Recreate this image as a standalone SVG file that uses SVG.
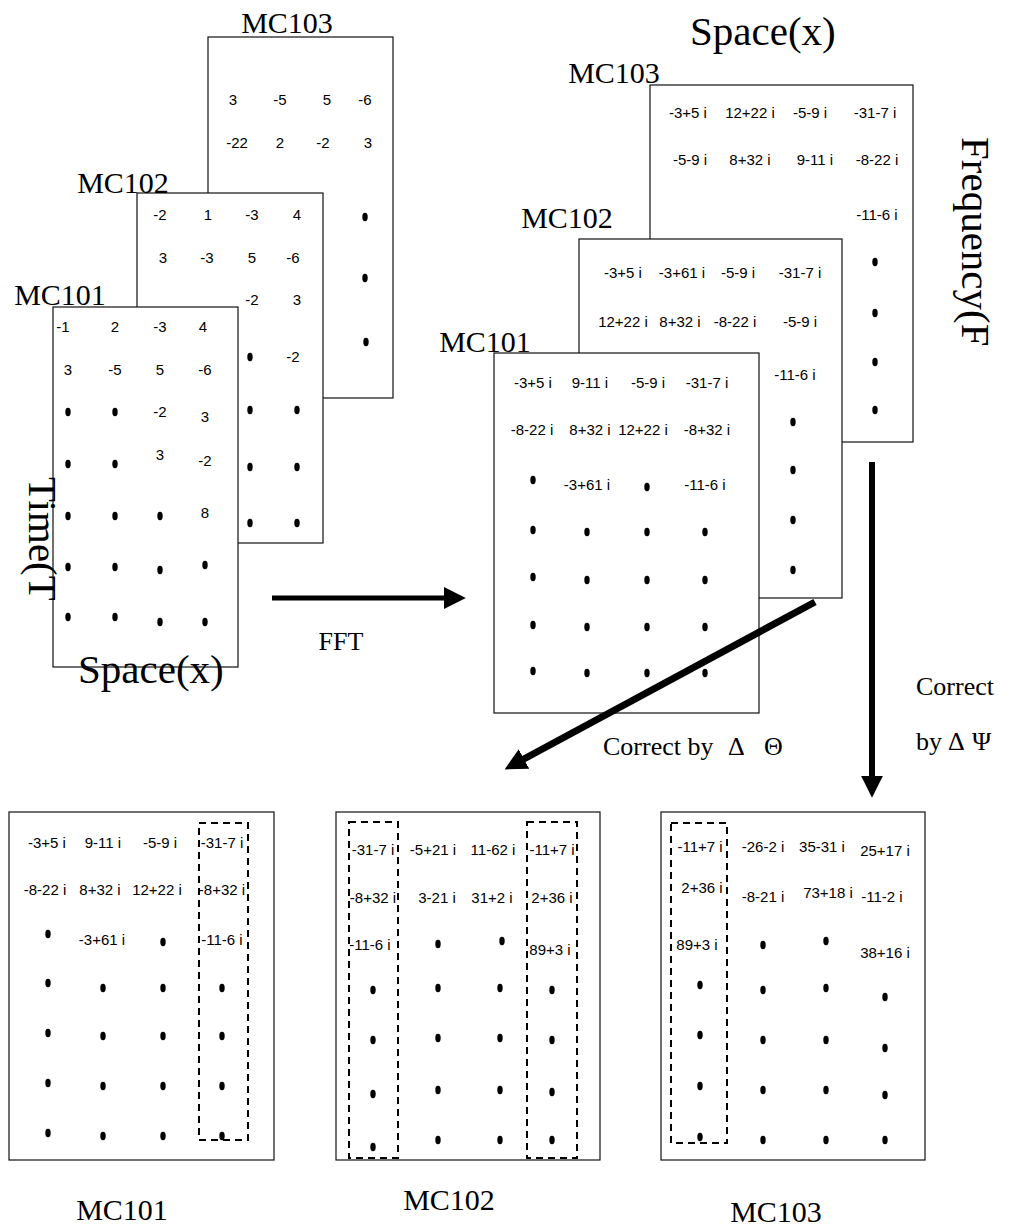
<svg xmlns="http://www.w3.org/2000/svg" width="1021" height="1231" viewBox="0 0 1021 1231">
<defs>
<style>
.box{fill:#fff;stroke:#111;stroke-width:1.2}
.dash{fill:none;stroke:#000;stroke-width:2;stroke-dasharray:7 5}
.n{font-family:"Liberation Sans",Arial,sans-serif;font-size:15px;text-anchor:middle;fill:#000}
.lb{font-family:"Liberation Serif","Times New Roman",serif;font-size:30px;fill:#000;text-anchor:middle}
.ax{font-family:"Liberation Serif","Times New Roman",serif;font-size:41px;fill:#000}
.cl{font-family:"Liberation Serif","Times New Roman",serif;font-size:26px;fill:#000}
.d{fill:#000}
.arr{stroke:#000;fill:none}
</style>
<marker id="ah" viewBox="0 0 10 10" refX="1" refY="5" markerUnits="userSpaceOnUse" markerWidth="22" markerHeight="22" orient="auto">
<path d="M0,0 L10,5 L0,10 z" fill="#000"/>
</marker>
</defs>
<rect width="1021" height="1231" fill="#fff"/>

<!-- Left stack: time domain -->
<g id="t-mc103">
<rect class="box" x="208" y="37" width="185" height="361"/>
<text class="lb" x="287" y="33">MC103</text>
<text class="n" x="233" y="105">3</text><text class="n" x="280" y="105">-5</text><text class="n" x="327" y="105">5</text><text class="n" x="365" y="105">-6</text>
<text class="n" x="237" y="148">-22</text><text class="n" x="280" y="148">2</text><text class="n" x="323" y="148">-2</text><text class="n" x="368" y="148">3</text>
<ellipse class="d" cx="365" cy="217" rx="2.7" ry="4.2"/><ellipse class="d" cx="365" cy="278" rx="2.7" ry="4.2"/><ellipse class="d" cx="366" cy="342" rx="2.7" ry="4.2"/>
</g>
<g id="t-mc102">
<rect class="box" x="137" y="193" width="186" height="350"/>
<text class="lb" x="123" y="193">MC102</text>
<text class="n" x="160" y="220">-2</text><text class="n" x="208" y="220">1</text><text class="n" x="252" y="220">-3</text><text class="n" x="297" y="220">4</text>
<text class="n" x="163" y="263">3</text><text class="n" x="207" y="263">-3</text><text class="n" x="252" y="263">5</text><text class="n" x="293" y="263">-6</text>
<text class="n" x="252" y="305">-2</text><text class="n" x="297" y="305">3</text>
<ellipse class="d" cx="250" cy="357" rx="2.7" ry="4.2"/><text class="n" x="293" y="362">-2</text>
<ellipse class="d" cx="250" cy="410" rx="2.7" ry="4.2"/><ellipse class="d" cx="297" cy="410" rx="2.7" ry="4.2"/>
<ellipse class="d" cx="250" cy="467" rx="2.7" ry="4.2"/><ellipse class="d" cx="297" cy="467" rx="2.7" ry="4.2"/>
<ellipse class="d" cx="250" cy="523" rx="2.7" ry="4.2"/><ellipse class="d" cx="297" cy="523" rx="2.7" ry="4.2"/>
</g>
<g id="t-mc101">
<rect class="box" x="53" y="307" width="185" height="360"/>
<text class="lb" x="60" y="305">MC101</text>
<text class="n" x="63" y="332">-1</text><text class="n" x="115" y="332">2</text><text class="n" x="160" y="332">-3</text><text class="n" x="203" y="332">4</text>
<text class="n" x="68" y="375">3</text><text class="n" x="115" y="375">-5</text><text class="n" x="160" y="375">5</text><text class="n" x="205" y="375">-6</text>
<ellipse class="d" cx="68" cy="412" rx="2.7" ry="4.2"/><ellipse class="d" cx="115" cy="412" rx="2.7" ry="4.2"/><text class="n" x="160" y="417">-2</text><text class="n" x="205" y="422">3</text>
<ellipse class="d" cx="68" cy="464" rx="2.7" ry="4.2"/><ellipse class="d" cx="115" cy="464" rx="2.7" ry="4.2"/><text class="n" x="160" y="460">3</text><text class="n" x="205" y="466">-2</text>
<ellipse class="d" cx="68" cy="516" rx="2.7" ry="4.2"/><ellipse class="d" cx="115" cy="516" rx="2.7" ry="4.2"/><ellipse class="d" cx="160" cy="516" rx="2.7" ry="4.2"/><text class="n" x="205" y="518">8</text>
<ellipse class="d" cx="68" cy="567" rx="2.7" ry="4.2"/><ellipse class="d" cx="115" cy="567" rx="2.7" ry="4.2"/><ellipse class="d" cx="160" cy="570" rx="2.7" ry="4.2"/><ellipse class="d" cx="205" cy="565" rx="2.7" ry="4.2"/>
<ellipse class="d" cx="68" cy="617" rx="2.7" ry="4.2"/><ellipse class="d" cx="115" cy="617" rx="2.7" ry="4.2"/><ellipse class="d" cx="160" cy="622" rx="2.7" ry="4.2"/><ellipse class="d" cx="205" cy="622" rx="2.7" ry="4.2"/>
</g>
<g id="t-axes">
<text class="ax" transform="translate(29,477) rotate(90)">Time(T</text>
<text class="ax" x="78" y="683">Space(x)</text>
</g>

<!-- Right stack: frequency domain -->
<g id="f-mc103">
<rect class="box" x="650" y="85" width="263" height="357"/>
<text class="lb" x="614" y="83">MC103</text>
<text class="n" x="688" y="118">-3+5 i</text><text class="n" x="750" y="118">12+22 i</text><text class="n" x="810" y="118">-5-9 i</text><text class="n" x="875" y="118">-31-7 i</text>
<text class="n" x="690" y="165">-5-9 i</text><text class="n" x="750" y="165">8+32 i</text><text class="n" x="815" y="165">9-11 i</text><text class="n" x="877" y="165">-8-22 i</text>
<text class="n" x="877" y="220">-11-6 i</text>
<ellipse class="d" cx="875" cy="262" rx="2.7" ry="4.2"/><ellipse class="d" cx="875" cy="313" rx="2.7" ry="4.2"/><ellipse class="d" cx="875" cy="362" rx="2.7" ry="4.2"/><ellipse class="d" cx="875" cy="410" rx="2.7" ry="4.2"/>
</g>
<g id="f-mc102">
<rect class="box" x="579" y="239" width="263" height="359"/>
<text class="lb" x="567" y="228">MC102</text>
<text class="n" x="623" y="278">-3+5 i</text><text class="n" x="682" y="278">-3+61 i</text><text class="n" x="738" y="278">-5-9 i</text><text class="n" x="800" y="278">-31-7 i</text>
<text class="n" x="623" y="327">12+22 i</text><text class="n" x="680" y="327">8+32 i</text><text class="n" x="735" y="327">-8-22 i</text><text class="n" x="800" y="327">-5-9 i</text>
<text class="n" x="795" y="380">-11-6 i</text>
<ellipse class="d" cx="793" cy="422" rx="2.7" ry="4.2"/><ellipse class="d" cx="793" cy="470" rx="2.7" ry="4.2"/><ellipse class="d" cx="793" cy="520" rx="2.7" ry="4.2"/><ellipse class="d" cx="793" cy="570" rx="2.7" ry="4.2"/>
</g>
<g id="f-mc101">
<rect class="box" x="494" y="353" width="265" height="360"/>
<text class="lb" x="485" y="352">MC101</text>
<text class="n" x="533" y="388">-3+5 i</text><text class="n" x="590" y="388">9-11 i</text><text class="n" x="648" y="388">-5-9 i</text><text class="n" x="707" y="388">-31-7 i</text>
<text class="n" x="532" y="435">-8-22 i</text><text class="n" x="590" y="435">8+32 i</text><text class="n" x="643" y="435">12+22 i</text><text class="n" x="707" y="435">-8+32 i</text>
<ellipse class="d" cx="533" cy="480" rx="2.7" ry="4.2"/><text class="n" x="587" y="490">-3+61 i</text><ellipse class="d" cx="647" cy="487" rx="2.7" ry="4.2"/><text class="n" x="705" y="490">-11-6 i</text>
<ellipse class="d" cx="533" cy="530" rx="2.7" ry="4.2"/><ellipse class="d" cx="587" cy="532" rx="2.7" ry="4.2"/><ellipse class="d" cx="647" cy="532" rx="2.7" ry="4.2"/><ellipse class="d" cx="705" cy="532" rx="2.7" ry="4.2"/>
<ellipse class="d" cx="533" cy="577" rx="2.7" ry="4.2"/><ellipse class="d" cx="587" cy="580" rx="2.7" ry="4.2"/><ellipse class="d" cx="647" cy="580" rx="2.7" ry="4.2"/><ellipse class="d" cx="705" cy="580" rx="2.7" ry="4.2"/>
<ellipse class="d" cx="533" cy="625" rx="2.7" ry="4.2"/><ellipse class="d" cx="587" cy="627" rx="2.7" ry="4.2"/><ellipse class="d" cx="647" cy="627" rx="2.7" ry="4.2"/><ellipse class="d" cx="705" cy="627" rx="2.7" ry="4.2"/>
<ellipse class="d" cx="533" cy="671" rx="2.7" ry="4.2"/><ellipse class="d" cx="587" cy="673" rx="2.7" ry="4.2"/><ellipse class="d" cx="647" cy="673" rx="2.7" ry="4.2"/><ellipse class="d" cx="705" cy="673" rx="2.7" ry="4.2"/>
</g>
<g id="f-axes">
<text class="ax" x="690" y="45">Space(x)</text>
<text class="ax" transform="translate(962,137) rotate(90)">Frequency(F</text>
</g>

<!-- Connectors -->
<g id="connectors">
<line class="arr" x1="272" y1="598" x2="446" y2="598" stroke-width="5" marker-end="url(#ah)"/>
<line class="arr" x1="815" y1="602" x2="522" y2="760" stroke-width="7" marker-end="url(#ah)"/>
<line class="arr" x1="872" y1="462" x2="872" y2="778" stroke-width="6" marker-end="url(#ah)"/>
<text class="cl" x="341" y="650" text-anchor="middle" font-size="30">FFT</text>
<text class="cl" x="603" y="755">Correct by <tspan x="728">Δ</tspan><tspan x="764">Θ</tspan></text>
<text class="cl" x="916" y="695" font-size="24">Correct</text>
<text class="cl" x="916" y="750" font-size="24">by <tspan x="948">Δ</tspan><tspan x="972">Ψ</tspan></text>
</g>

<!-- Bottom: corrected -->
<g id="c-mc101">
<rect class="box" x="9" y="812" width="265" height="348"/>
<rect class="dash" x="199" y="823" width="49" height="317"/>
<text class="n" x="47" y="848">-3+5 i</text><text class="n" x="103" y="848">9-11 i</text><text class="n" x="160" y="848">-5-9 i</text><text class="n" x="222" y="848">-31-7 i</text>
<text class="n" x="45" y="895">-8-22 i</text><text class="n" x="100" y="895">8+32 i</text><text class="n" x="157" y="895">12+22 i</text><text class="n" x="222" y="895">-8+32 i</text>
<ellipse class="d" cx="48" cy="934" rx="2.7" ry="4.2"/><text class="n" x="102" y="945">-3+61 i</text><ellipse class="d" cx="163" cy="942" rx="2.7" ry="4.2"/><text class="n" x="222" y="945">-11-6 i</text>
<ellipse class="d" cx="48" cy="983" rx="2.7" ry="4.2"/><ellipse class="d" cx="103" cy="988" rx="2.7" ry="4.2"/><ellipse class="d" cx="163" cy="988" rx="2.7" ry="4.2"/><ellipse class="d" cx="222" cy="988" rx="2.7" ry="4.2"/>
<ellipse class="d" cx="48" cy="1033" rx="2.7" ry="4.2"/><ellipse class="d" cx="103" cy="1036" rx="2.7" ry="4.2"/><ellipse class="d" cx="163" cy="1036" rx="2.7" ry="4.2"/><ellipse class="d" cx="222" cy="1036" rx="2.7" ry="4.2"/>
<ellipse class="d" cx="48" cy="1083" rx="2.7" ry="4.2"/><ellipse class="d" cx="103" cy="1086" rx="2.7" ry="4.2"/><ellipse class="d" cx="163" cy="1086" rx="2.7" ry="4.2"/><ellipse class="d" cx="222" cy="1086" rx="2.7" ry="4.2"/>
<ellipse class="d" cx="48" cy="1133" rx="2.7" ry="4.2"/><ellipse class="d" cx="103" cy="1136" rx="2.7" ry="4.2"/><ellipse class="d" cx="163" cy="1136" rx="2.7" ry="4.2"/><ellipse class="d" cx="222" cy="1136" rx="2.7" ry="4.2"/>
<text class="lb" x="122" y="1220">MC101</text>
</g>
<g id="c-mc102">
<rect class="box" x="336" y="812" width="264" height="348"/>
<rect class="dash" x="349" y="822" width="49" height="336"/>
<rect class="dash" x="527" y="822" width="50" height="336"/>
<text class="n" x="373" y="855">-31-7 i</text><text class="n" x="433" y="855">-5+21 i</text><text class="n" x="493" y="855">11-62 i</text><text class="n" x="552" y="855">-11+7 i</text>
<text class="n" x="373" y="903">-8+32 i</text><text class="n" x="437" y="903">3-21 i</text><text class="n" x="492" y="903">31+2 i</text><text class="n" x="552" y="903">2+36 i</text>
<text class="n" x="370" y="950">-11-6 i</text><ellipse class="d" cx="438" cy="944" rx="2.7" ry="4.2"/><ellipse class="d" cx="502" cy="941" rx="2.7" ry="4.2"/><text class="n" x="550" y="955">89+3 i</text>
<ellipse class="d" cx="373" cy="990" rx="2.7" ry="4.2"/><ellipse class="d" cx="438" cy="988" rx="2.7" ry="4.2"/><ellipse class="d" cx="500" cy="988" rx="2.7" ry="4.2"/><ellipse class="d" cx="552" cy="990" rx="2.7" ry="4.2"/>
<ellipse class="d" cx="373" cy="1040" rx="2.7" ry="4.2"/><ellipse class="d" cx="438" cy="1038" rx="2.7" ry="4.2"/><ellipse class="d" cx="500" cy="1038" rx="2.7" ry="4.2"/><ellipse class="d" cx="552" cy="1040" rx="2.7" ry="4.2"/>
<ellipse class="d" cx="373" cy="1094" rx="2.7" ry="4.2"/><ellipse class="d" cx="438" cy="1090" rx="2.7" ry="4.2"/><ellipse class="d" cx="500" cy="1090" rx="2.7" ry="4.2"/><ellipse class="d" cx="552" cy="1092" rx="2.7" ry="4.2"/>
<ellipse class="d" cx="373" cy="1147" rx="2.7" ry="4.2"/><ellipse class="d" cx="438" cy="1140" rx="2.7" ry="4.2"/><ellipse class="d" cx="500" cy="1140" rx="2.7" ry="4.2"/><ellipse class="d" cx="552" cy="1140" rx="2.7" ry="4.2"/>
<text class="lb" x="449" y="1210">MC102</text>
</g>
<g id="c-mc103">
<rect class="box" x="661" y="812" width="264" height="348"/>
<rect class="dash" x="671" y="823" width="56" height="320"/>
<text class="n" x="700" y="852">-11+7 i</text><text class="n" x="763" y="852">-26-2 i</text><text class="n" x="822" y="852">35-31 i</text><text class="n" x="885" y="856">25+17 i</text>
<text class="n" x="702" y="893">2+36 i</text><text class="n" x="763" y="902">-8-21 i</text><text class="n" x="828" y="898">73+18 i</text><text class="n" x="882" y="902">-11-2 i</text>
<text class="n" x="697" y="950">89+3 i</text><ellipse class="d" cx="763" cy="945" rx="2.7" ry="4.2"/><ellipse class="d" cx="826" cy="941" rx="2.7" ry="4.2"/><text class="n" x="885" y="958">38+16 i</text>
<ellipse class="d" cx="700" cy="985" rx="2.7" ry="4.2"/><ellipse class="d" cx="763" cy="990" rx="2.7" ry="4.2"/><ellipse class="d" cx="826" cy="988" rx="2.7" ry="4.2"/><ellipse class="d" cx="885" cy="997" rx="2.7" ry="4.2"/>
<ellipse class="d" cx="700" cy="1035" rx="2.7" ry="4.2"/><ellipse class="d" cx="763" cy="1040" rx="2.7" ry="4.2"/><ellipse class="d" cx="826" cy="1040" rx="2.7" ry="4.2"/><ellipse class="d" cx="885" cy="1048" rx="2.7" ry="4.2"/>
<ellipse class="d" cx="700" cy="1086" rx="2.7" ry="4.2"/><ellipse class="d" cx="763" cy="1090" rx="2.7" ry="4.2"/><ellipse class="d" cx="826" cy="1090" rx="2.7" ry="4.2"/><ellipse class="d" cx="885" cy="1095" rx="2.7" ry="4.2"/>
<ellipse class="d" cx="700" cy="1137" rx="2.7" ry="4.2"/><ellipse class="d" cx="763" cy="1140" rx="2.7" ry="4.2"/><ellipse class="d" cx="826" cy="1140" rx="2.7" ry="4.2"/><ellipse class="d" cx="885" cy="1140" rx="2.7" ry="4.2"/>
<text class="lb" x="776" y="1222">MC103</text>
</g>
</svg>
